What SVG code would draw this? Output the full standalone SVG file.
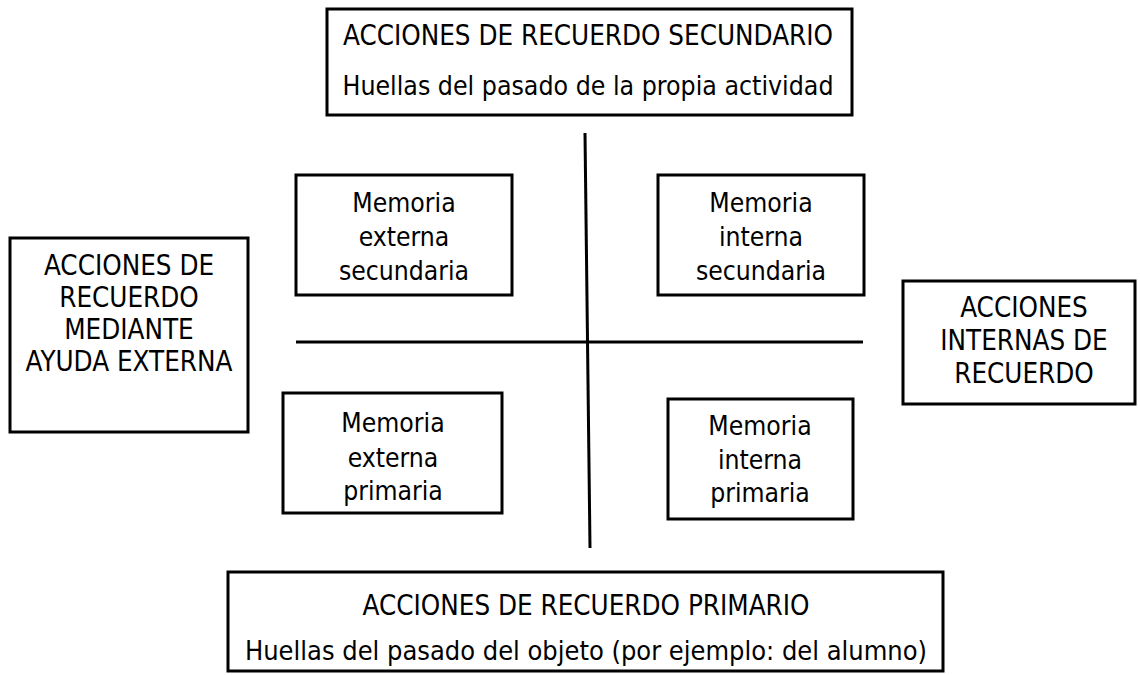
<svg xmlns="http://www.w3.org/2000/svg" width="1140" height="675" viewBox="0 0 1140 675">
<style>
.box{fill:#fff;stroke:#000;stroke-width:3}
.ln{stroke:#000;stroke-width:3;fill:none}
text{font-family:"DejaVu Sans Condensed","DejaVu Sans",sans-serif;font-size:26.3px;fill:#000;text-anchor:middle}
.cap{font-size:27.5px}
</style>
<rect width="1140" height="675" fill="#fff"/>
<g id="connectors">
<line class="ln" x1="585" y1="133" x2="590" y2="548"/>
<line class="ln" x1="296" y1="342" x2="863" y2="342"/>
</g>
<g id="top">
<rect class="box" x="327" y="9" width="525" height="106"/>
<text class="cap" x="588" y="45">ACCIONES DE RECUERDO SECUNDARIO</text>
<text x="588" y="95" textLength="491" lengthAdjust="spacingAndGlyphs">Huellas del pasado de la propia actividad</text>
</g>
<g id="left">
<rect class="box" x="10" y="238" width="238" height="194"/>
<text class="cap" x="129" y="275">ACCIONES DE</text>
<text class="cap" x="129" y="307">RECUERDO</text>
<text class="cap" x="129" y="339">MEDIANTE</text>
<text class="cap" x="129" y="371">AYUDA EXTERNA</text>
</g>
<g id="right">
<rect class="box" x="903" y="281" width="232" height="123"/>
<text class="cap" x="1024" y="317">ACCIONES</text>
<text class="cap" x="1024" y="350">INTERNAS DE</text>
<text class="cap" x="1024" y="383">RECUERDO</text>
</g>
<g id="mes">
<rect class="box" x="296" y="175" width="216" height="120"/>
<text x="404" y="212">Memoria</text>
<text x="404" y="246">externa</text>
<text x="404" y="280">secundaria</text>
</g>
<g id="mis">
<rect class="box" x="658" y="175" width="206" height="120"/>
<text x="761" y="212">Memoria</text>
<text x="761" y="246">interna</text>
<text x="761" y="280">secundaria</text>
</g>
<g id="mep">
<rect class="box" x="283" y="393" width="219" height="120"/>
<text x="393" y="432">Memoria</text>
<text x="393" y="467">externa</text>
<text x="393" y="500">primaria</text>
</g>
<g id="mip">
<rect class="box" x="668" y="399" width="185" height="120"/>
<text x="760" y="435">Memoria</text>
<text x="760" y="469">interna</text>
<text x="760" y="502">primaria</text>
</g>
<g id="bottom">
<rect class="box" x="228" y="572" width="715" height="99"/>
<text class="cap" x="586" y="615">ACCIONES DE RECUERDO PRIMARIO</text>
<text x="586" y="660" textLength="682" lengthAdjust="spacingAndGlyphs">Huellas del pasado del objeto (por ejemplo: del alumno)</text>
</g>
</svg>
